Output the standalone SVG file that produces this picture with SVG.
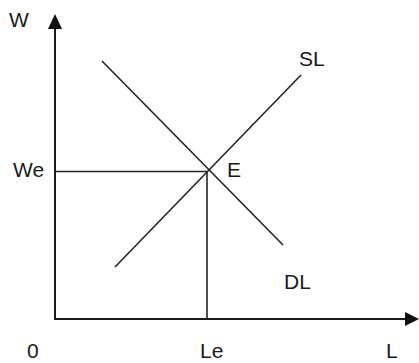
<svg xmlns="http://www.w3.org/2000/svg" width="419" height="363" viewBox="0 0 419 363">
<style>
.axis{stroke:#1a1a1a;stroke-width:2;fill:none}
.line{stroke:#222;stroke-width:1.6;fill:none}
.lbl{font-family:"Liberation Sans",Arial,sans-serif;font-size:21px;fill:#1a1a1a}
</style>
<rect width="419" height="363" fill="#fff"/>
<g id="connectors">
<path class="axis" d="M55,320 V28"/>
<path d="M55,14 L62,29 L48,29 Z" fill="#111"/>
<path class="axis" d="M55,319 H406"/>
<path d="M419,319 L405,312 L405,326 Z" fill="#111"/>
<path class="line" d="M55,171.5 H207"/>
<path class="line" d="M207,171.5 V319"/>
</g>
<g id="SL"><path class="line" d="M115,267 L301,75"/><text class="lbl" x="299" y="66">SL</text></g>
<g id="DL"><path class="line" d="M102,61 L283,245"/><text class="lbl" x="284" y="289">DL</text></g>
<g id="E"><text class="lbl" x="227" y="177">E</text></g>
<g id="W"><text class="lbl" x="9" y="27">W</text></g>
<g id="We"><text class="lbl" x="13" y="177">We</text></g>
<g id="O"><text class="lbl" x="27" y="358">0</text></g>
<g id="Le"><text class="lbl" x="200" y="358">Le</text></g>
<g id="L"><text class="lbl" x="386" y="358">L</text></g>
</svg>
